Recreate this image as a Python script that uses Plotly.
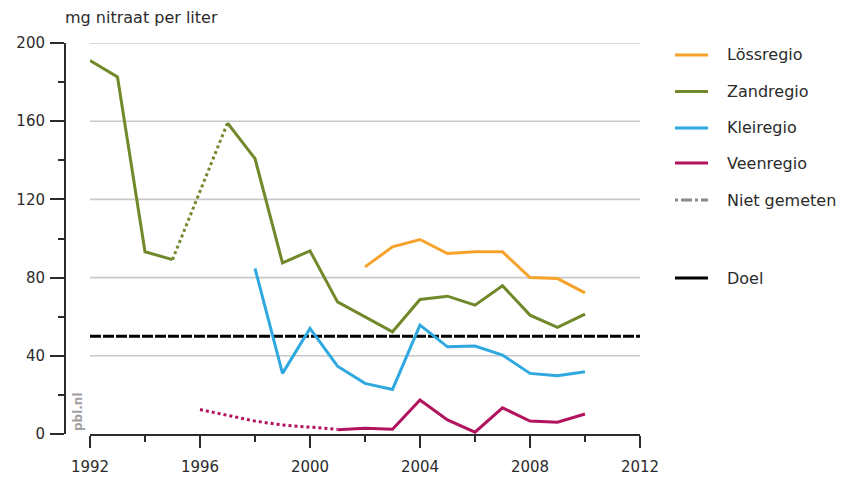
import plotly.graph_objects as go

# ---- data ----
years = list(range(1992, 2011))

loss = [None]*10 + [85.5, 95.7, 99.5, 92.3, 93.2, 93.2, 80.0, 79.5, 72.2]
zand = [191, 182.6, 93.2, 89.2, None, 159.1, 140.9, 87.5, 93.7, 67.6, 60.0, 52.3,
        68.8, 70.5, 65.9, 75.8, 60.8, 54.5, 61.3]
zand_niet = [None, None, None, 89.2, 124.0, 159.1] + [None]*13
klei = [None]*6 + [84.7, 31.0, 54.0, 34.7, 25.9, 22.8, 55.7, 44.6, 45.0, 40.4, 31.0, 29.8, 31.8]
veen = [None]*9 + [2.2, 2.9, 2.4, 17.4, 7.2, 0.9, 13.4, 6.6, 6.0, 10.2]
veen_niet = [None]*4 + [12.5, 9.5, 6.6, 4.6, 3.4, 2.4] + [None]*9
doel_years = [1992, 2012]
doel = [50, 50]

series_names = ["Lössregio", "Zandregio", "Kleiregio", "Veenregio"]
colors = ["#F7A22B", "#71892A", "#2FA8DF", "#B2135F"]
legend_extra = ["Niet gemeten", "Doel"]

y_ticks = [0, 40, 80, 120, 160, 200]
x_ticks = [1992, 1996, 2000, 2004, 2008, 2012]

FONT = "DejaVu Sans"
TXT = "#2b2b2b"

# ---- geometry helpers (page pixel -> paper); page has an 8px body margin ----
OFF = 8
W, H = 855 - OFF, 478 - OFF
L, R, T, B = 65 - OFF, 0, 43 - OFF, 478 - 434
PW, PH = W - L - R, H - T - B


def px(x):
    return (x - OFF - L) / PW


def py(y):
    return (434 - y) / PH


fig = go.Figure()

# gridlines (from 1992 to 2012)
for v in y_ticks[1:]:
    fig.add_shape(type="line", xref="x", yref="y", x0=1992, x1=2012, y0=v, y1=v,
                  line=dict(color="#C8C8C8", width=1.6), layer="below")

# Doel
fig.add_trace(go.Scatter(x=doel_years, y=doel, mode="lines", name="Doel",
                         line=dict(color="black", width=3, dash="11px,2px"),
                         showlegend=False, hoverinfo="skip"))

# dotted (not measured)
fig.add_trace(go.Scatter(x=years, y=zand_niet, mode="lines", name="Zandregio (niet gemeten)",
                         line=dict(color=colors[1], width=3, dash="dot"), showlegend=False))
fig.add_trace(go.Scatter(x=years, y=veen_niet, mode="lines", name="Veenregio (niet gemeten)",
                         line=dict(color=colors[3], width=3, dash="dot"), showlegend=False))

for name, vals, c in zip(series_names, [loss, zand, klei, veen], colors):
    fig.add_trace(go.Scatter(x=years, y=vals, mode="lines", name=name,
                             line=dict(color=c, width=3), showlegend=False))

# manual legend
leg_y = [55, 91.5, 128, 163, 200, 278]
leg_cols = colors + ["#8A8A8A", "black"]
leg_names = series_names + legend_extra
for nm, c, yy in zip(leg_names, leg_cols, leg_y):
    dash = "solid"
    if nm == "Niet gemeten":
        dash = "3px,3px,11px,3px"
    fig.add_shape(type="line", xref="paper", yref="paper",
                  x0=px(675), x1=px(708), y0=py(yy), y1=py(yy),
                  line=dict(color=c, width=3, dash=dash))
    fig.add_annotation(xref="paper", yref="paper", x=px(725), y=py(yy), text=nm,
                       showarrow=False, xanchor="left", yanchor="middle",
                       font=dict(family=FONT, size=16, color=TXT))

# title
fig.add_annotation(xref="paper", yref="paper", x=px(63), y=py(18), text="mg nitraat per liter",
                   showarrow=False, xanchor="left", yanchor="middle",
                   font=dict(family=FONT, size=16, color=TXT))

# pbl.nl
fig.add_annotation(xref="paper", yref="paper", x=px(78), y=py(412), text="<b>pbl.nl</b>",
                   showarrow=False, textangle=-90, xanchor="center", yanchor="middle",
                   font=dict(family=FONT, size=12, color="#A0A0A0"))

fig.update_layout(
    width=W, height=H,
    margin=dict(l=L, r=R, t=T, b=B, autoexpand=False),
    paper_bgcolor="white", plot_bgcolor="white",
    font=dict(family=FONT, size=15, color=TXT),
    showlegend=False,
    xaxis=dict(domain=[px(90), px(640)], range=[1992, 2012],
               tickvals=x_ticks, ticktext=[str(v) for v in x_ticks],
               ticks="outside", ticklen=12, tickwidth=2, tickcolor=TXT,
               tickfont=dict(family=FONT, size=15, color=TXT),
               minor=dict(dtick=2, tick0=1992, ticks="outside", ticklen=6, tickwidth=2, tickcolor=TXT),
               showline=True, linecolor=TXT, linewidth=2, showgrid=False, zeroline=False,
               ticklabelstandoff=6, fixedrange=True, automargin=False),
    yaxis=dict(range=[0, 200], anchor="free", position=0,
               tickvals=y_ticks, ticktext=[str(v) for v in y_ticks],
               ticks="outside", ticklen=14, tickwidth=2, tickcolor=TXT,
               tickfont=dict(family=FONT, size=15, color=TXT),
               minor=dict(dtick=20, tick0=0, ticks="outside", ticklen=6, tickwidth=2, tickcolor=TXT),
               showline=True, linecolor=TXT, linewidth=2, showgrid=False, zeroline=False,
               ticklabelstandoff=2, fixedrange=True, automargin=False),
)

fig.write_html("out.html")
